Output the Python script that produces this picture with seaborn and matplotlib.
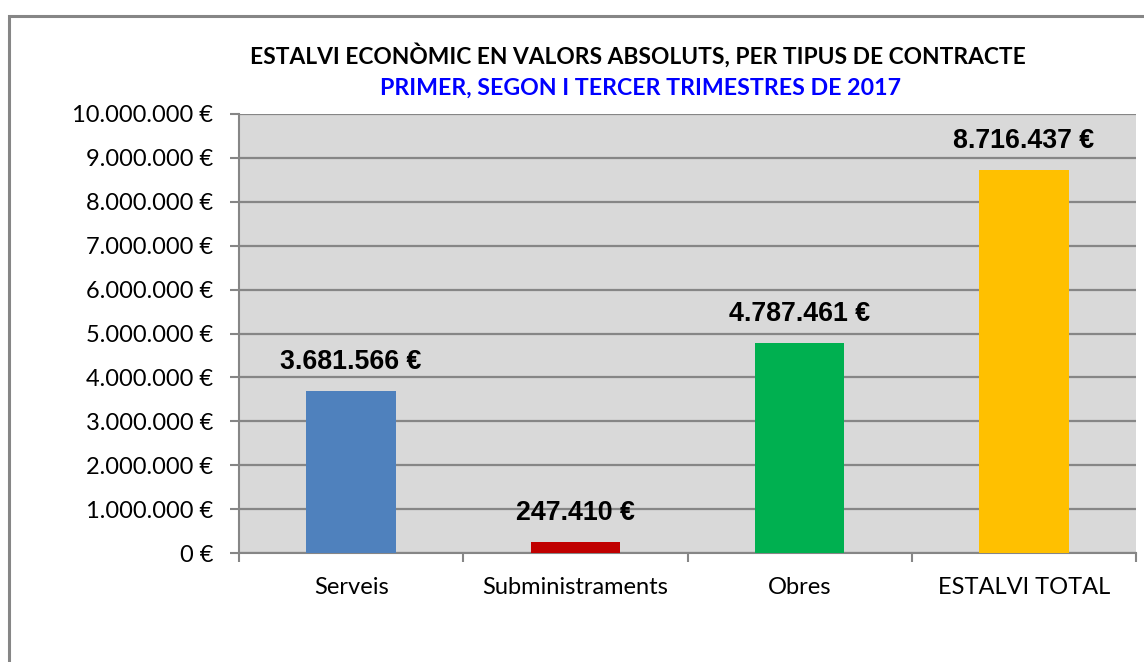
import matplotlib
matplotlib.use("Agg")
import matplotlib.pyplot as plt
import seaborn as sns
import pandas as pd
from matplotlib.ticker import FuncFormatter, FixedLocator
from matplotlib.patches import Rectangle

categories = ["Serveis", "Subministraments", "Obres", "ESTALVI TOTAL"]
values = [3681566, 247410, 4787461, 8716437]
colors = ["#4F81BD", "#C00000", "#00B050", "#FFC000"]
title1 = "ESTALVI ECONÒMIC EN VALORS ABSOLUTS, PER TIPUS DE CONTRACTE"
title2 = "PRIMER, SEGON I TERCER TRIMESTRES DE 2017"

def eur(v):
    return f"{int(round(v)):,}".replace(",", ".") + " €"

sns.set_theme(style="white")
plt.rcParams["font.family"] = ["Lato", "DejaVu Sans"]

W, H = 1144, 662
fig = plt.figure(figsize=(W / 100, H / 100), dpi=100)
fig.patch.set_facecolor("white")

# outer chart border
fig.patches.append(Rectangle((9 / W, -0.2), 2.0, 1.2 - 16 / H, transform=fig.transFigure,
                             fill=False, edgecolor="#868686", linewidth=2.2, zorder=0))

ax = fig.add_axes([239 / W, 1 - 553 / H, (1136 - 239) / W, (553 - 114) / H])
ax.set_facecolor("#D9D9D9")

df = pd.DataFrame({"cat": categories, "val": values})
sns.barplot(data=df, x="cat", y="val", hue="cat", palette=colors, width=0.4,
            legend=False, ax=ax, saturation=1, zorder=3, linewidth=0, edgecolor="none")

ax.set_ylim(0, 10000000)
ax.set_xlim(-0.5, len(categories) - 0.5)
ax.yaxis.set_major_locator(FixedLocator(list(range(0, 10000001, 1000000))))
ax.yaxis.set_major_formatter(FuncFormatter(lambda v, p: eur(v)))
ax.grid(axis="y", color="#868686", linewidth=1.6, zorder=1)
ax.set_axisbelow(True)
ax.set_xlabel("")
ax.set_ylabel("")

for s in ["top", "right"]:
    ax.spines[s].set_visible(False)
for s in ["left", "bottom"]:
    ax.spines[s].set_color("#868686")
    ax.spines[s].set_linewidth(1.5)

ax.tick_params(axis="y", which="major", length=6.5, width=1.5, color="#868686",
               pad=12, labelsize=17, labelcolor="black", left=True)
ax.set_xticks(range(len(categories)))
ax.set_xticklabels(categories)
ax.set_xticks([i - 0.5 for i in range(len(categories) + 1)], minor=True)
ax.tick_params(axis="x", which="major", length=0, pad=17.5, labelsize=17, labelcolor="black")
ax.tick_params(axis="x", which="minor", length=6.5, width=1.5, color="#868686", bottom=True)

for i, v in enumerate(values):
    ax.annotate(eur(v), (i, v), xytext=(0, 11.5), textcoords="offset points",
                ha="center", va="bottom", fontsize=19.3, fontweight="bold",
                family=["Liberation Sans", "DejaVu Sans"], color="black", zorder=5)

fig.text(638 / W, 1 - 55 / H, title1, ha="center", va="center", fontsize=16.4,
         fontweight="bold", color="black")
fig.text(640 / W, 1 - 88 / H, title2, ha="center", va="center", fontsize=16.7,
         fontweight="bold", color="#0000FF")

fig.savefig("out.png", dpi=100)
